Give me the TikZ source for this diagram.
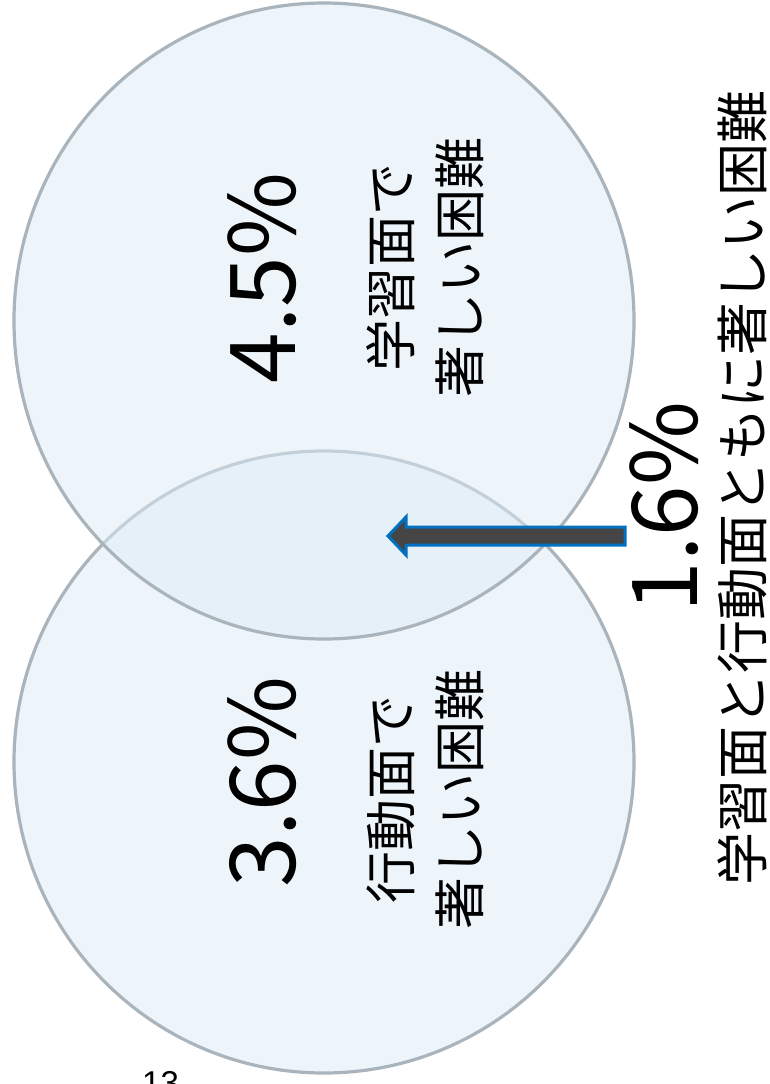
\documentclass[tikz,border=0pt]{standalone}
\usepackage{fontspec}
\usetikzlibrary{calc}
\newfontfamily\jpfont{Noto Sans CJK JP}
\newfontfamily\arialfont{Liberation Sans}
\definecolor{vennfill}{RGB}{223,237,247}
\definecolor{vennline}{RGB}{169,180,188}
\definecolor{arrowfill}{RGB}{69,69,69}
\definecolor{arrowline}{RGB}{0,112,192}
\begin{document}
\begin{tikzpicture}[x=1pt,y=-1pt,
  venn/.style={draw=vennline,line width=3.2pt,fill=vennfill,fill opacity=0.5},
  bignum/.style={rotate=90,inner sep=0pt,font=\jpfont\fontsize{91}{91}\selectfont},
  jlabel/.style={rotate=90,inner sep=0pt,align=center,font=\jpfont\fontsize{52}{69}\selectfont},
  blockarrow/.style={draw=arrowline,line width=3pt,fill=arrowfill,line join=miter}]
\useasboundingbox[fill=white] (0,0) rectangle (769,1084);
% circles
\draw[venn] (324,762) ellipse [x radius=310, y radius=311];
\draw[venn] (324,321) ellipse [x radius=310, y radius=318];
% texts
\node[bignum] (pA) at (262,278) {4.5\%};
\node[jlabel] (lA) at (425.5,267) {学習面で\\著しい困難};
\node[bignum] (pB) at (262,782) {3.6\%};
\node[jlabel] (lB) at (425.5,799) {行動面で\\著しい困難};
\node[bignum] (pC) at (664,507) {1.6\%};
\node[rotate=90,inner sep=0pt,font=\jpfont\fontsize{53}{53}\selectfont] (lC) at (742,488) {学習面と行動面ともに著しい困難};
\node[anchor=base west,inner sep=0pt,font=\arialfont\fontsize{33}{33}\selectfont] (pg) at (142,1094) {13};
% arrow
\coordinate (tail) at (625,536);
\coordinate (tip) at (388,536);
\draw[blockarrow] (tip) -- ++(18,-19) -- ++(0,10) -- ($(tail)+(0,-9)$) -- ($(tail)+(0,9)$) -- ($(tip)+(18,9)$) -- ++(0,10) -- cycle;
\end{tikzpicture}
\end{document}
